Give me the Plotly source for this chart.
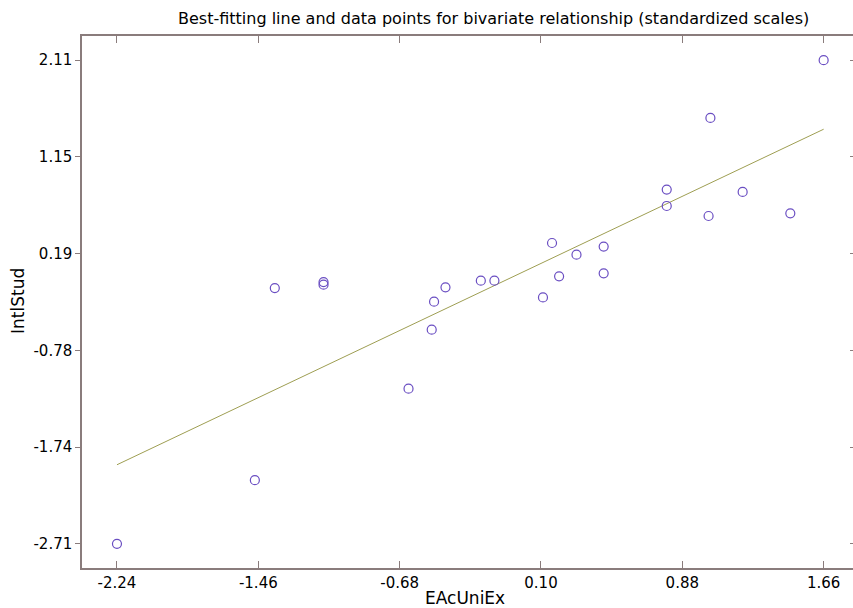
import plotly.graph_objects as go

# Data (standardized scores)
eac_uni_ex = [-1.369, -1.100, -1.100, -0.490, -0.427, -0.503, -0.631, -0.232,
              -0.157, 0.111, 0.161, 0.200, 0.296, 0.446, 0.446, 0.794,
              0.794, 1.025, 1.035, 1.213, 1.476, 1.660, -1.479, -2.240]
intl_stud = [-0.161, -0.101, -0.127, -0.297, -0.154, -0.576, -1.164, -0.087,
             -0.087, -0.254, 0.288, -0.044, 0.172, 0.252, -0.014, 0.820,
             0.657, 0.557, 1.535, 0.797, 0.584, 2.110, -2.076, -2.710]

# Best-fitting line endpoints (standardized, through origin)
fit_x = [-2.24, 1.66]
fit_y = [-1.922, 1.422]

# Tick positions / labels
x_tickvals = [-2.24, -1.46, -0.68, 0.10, 0.88, 1.66]
x_ticktext = ["-2.24", "-1.46", "-0.68", "0.10", "0.88", "1.66"]
y_tickvals = [-2.71, -1.746, -0.782, 0.182, 1.146, 2.11]
y_ticktext = ["-2.71", "-1.74", "-0.78", "0.19", "1.15", "2.11"]

x_range = [-2.433, 1.822]
y_range = [-2.951, 2.351]

axis_col = "#8a7c7c"
font_family = "DejaVu Sans, Liberation Sans, Arial, sans-serif"

fig = go.Figure()
fig.add_trace(go.Scatter(
    x=fit_x, y=fit_y, mode="lines",
    line=dict(color="#9e9e52", width=1), hoverinfo="skip", showlegend=False))
fig.add_trace(go.Scatter(
    x=eac_uni_ex, y=intl_stud, mode="markers",
    marker=dict(symbol="circle-open", size=9, color="#6a4ec2",
                line=dict(width=1.2, color="#6a4ec2")),
    showlegend=False))
# invisible trace for the overlay axes (top / right ticks)
fig.add_trace(go.Scatter(x=[None], y=[None], xaxis="x2", yaxis="y2",
                         showlegend=False, hoverinfo="skip"))

fig.update_layout(
    width=853, height=608,
    margin=dict(l=82, r=0, t=36, b=40),
    paper_bgcolor="white", plot_bgcolor="white",
    font=dict(family=font_family, size=15, color="black"),
    xaxis=dict(range=x_range, tickvals=x_tickvals, ticktext=x_ticktext,
               showgrid=False, zeroline=False, showline=True,
               linecolor=axis_col, linewidth=1.5,
               ticks="inside", ticklen=7, tickcolor=axis_col, tickwidth=1.2,
               tickfont=dict(size=15)),
    yaxis=dict(range=y_range, tickvals=y_tickvals, ticktext=y_ticktext,
               showgrid=False, zeroline=False, showline=True,
               linecolor=axis_col, linewidth=1.5,
               ticks="outside", ticklen=5, tickcolor=axis_col, tickwidth=1.2,
               tickfont=dict(size=15)),
    xaxis2=dict(overlaying="x", side="top", range=x_range,
                tickvals=x_tickvals, showticklabels=False,
                showgrid=False, zeroline=False, showline=True,
                linecolor=axis_col, linewidth=1.5,
                ticks="inside", ticklen=7, tickcolor=axis_col, tickwidth=1.2),
    yaxis2=dict(overlaying="y", side="right", range=y_range,
                tickvals=y_tickvals, showticklabels=False,
                showgrid=False, zeroline=False, showline=False,
                ticks="inside", ticklen=3, tickcolor=axis_col, tickwidth=1.2),
    annotations=[
        dict(text="Best-fitting line and data points for bivariate relationship (standardized scales)",
             xref="paper", yref="paper", x=(493 - 82) / 771, y=1 + 18 / 532,
             xanchor="center", yanchor="middle", showarrow=False,
             font=dict(size=16)),
        dict(text="EAcUniEx", xref="paper", yref="paper",
             x=(465 - 82) / 771, y=-(598 - 568) / 532,
             xanchor="center", yanchor="middle", showarrow=False,
             font=dict(size=17)),
        dict(text="IntlStud", xref="paper", yref="paper",
             x=-(82 - 18) / 771, y=(568 - 301) / 532,
             xanchor="center", yanchor="middle", showarrow=False,
             textangle=-90, font=dict(size=17)),
    ],
)

fig.write_html("out.html",
               config={"displayModeBar": False},
               post_script="document.body.style.margin='0';"
                           "document.body.style.overflow='hidden';")
